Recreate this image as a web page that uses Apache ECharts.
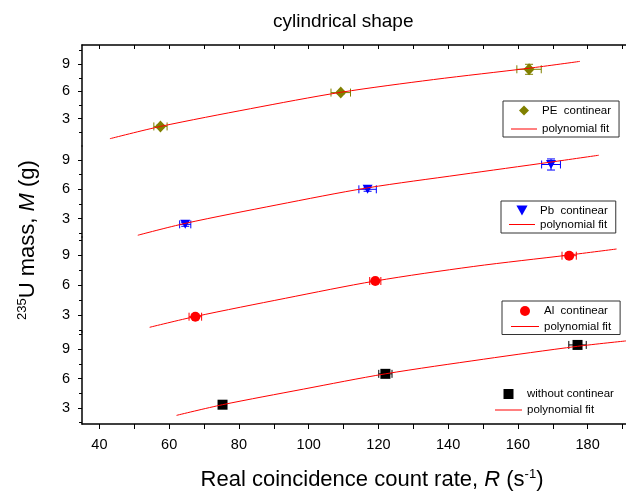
<!DOCTYPE html>
<html>
<head>
<meta charset="utf-8">
<script src="https://cdn.jsdelivr.net/npm/echarts@6/dist/echarts.min.js"></script>
<style>
  html, body { margin: 0; padding: 0; background: #fff; }
  #chart-container { width: 626px; height: 500px; }
</style>
</head>
<body>
<div id="chart-container"></div>
<script>
// tick labels
const xTickValues = [40, 50, 60, 70, 80, 90, 100, 110, 120, 130, 140, 150, 160, 170, 180, 190];
const xTickLabels = [40, 60, 80, 100, 120, 140, 160, 180];
const yTickLabels = [3, 6, 9];
const yMinorTicks = [1.5, 4.5, 7.5, 10.5];

// PE continear
const pePointX = [57.5, 109.2, 163.2];
const pePointY = [2.15, 5.87, 8.43];
const pePointXErr = [1.9, 2.8, 3.5];
const pePointYErr = [0.15, 0.15, 0.55];
const peFitX = [43, 57.5, 83.3, 109.2, 135.8, 163.2, 177.8];
const peFitY = [0.8, 2.15, 4.1, 5.9, 7.3, 8.55, 9.3];

// Pb continear
const pbPointX = [64.6, 116.9, 169.5];
const pbPointY = [2.4, 6.0, 8.55];
const pbPointXErr = [1.6, 2.5, 2.7];
const pbPointYErr = [0.2, 0.2, 0.57];
const pbFitX = [51, 64.6, 90.9, 116.9, 143.4, 169.5, 183.2];
const pbFitY = [1.28, 2.5, 4.4, 6.15, 7.5, 8.8, 9.5];

// Al continear
const alPointX = [67.5, 119.1, 174.7];
const alPointY = [2.83, 6.4, 8.93];
const alPointXErr = [1.8, 1.6, 2.05];
const alPointYErr = [0.15, 0.15, 0.25];
const alFitX = [54.4, 67.5, 93.3, 119.1, 147.2, 174.7, 188.3];
const alFitY = [1.77, 2.85, 4.67, 6.4, 7.85, 9.0, 9.6];

// without continear
const woPointX = [75.3, 122.0, 177.1];
const woPointY = [3.34, 6.49, 9.44];
const woPointXErr = [0.8, 1.9, 2.5];
const woPointYErr = [0.1, 0.15, 0.2];
const woFitX = [62.1, 75.3, 98.5, 122, 150.1, 177.1, 191];
const woFitY = [2.25, 3.34, 4.93, 6.49, 7.98, 9.3, 9.85];

const FONT = 'Liberation Sans, Arial, sans-serif';

// stacked panels, top to bottom
const panelLayout = [
  { top: 45, height: 101, min: 0, max: 11.1 },
  { top: 146, height: 91, min: 1.1, max: 10.45 },
  { top: 237, height: 95, min: 1.3, max: 10.8 },
  { top: 332, height: 92, min: 1.37, max: 10.76 },
];

// legend icons as paths so they keep their aspect
const ICON_DIAMOND = 'path://M5,0L10,5L5,10L0,5Z';
const ICON_TRI_DOWN = 'path://M0,0L10,0L5,9Z';
const ICON_CIRCLE = 'path://M5,0A5,5,0,1,1,5,10A5,5,0,1,1,5,0Z';
const ICON_SQUARE = 'path://M0,0L10,0L10,10L0,10Z';

function zip(xs, ys) {
  return xs.map((x, i) => [x, ys[i]]);
}

function errorBars(idx, xs, ys, xe, ye, color) {
  return {
    type: 'custom',
    xAxisIndex: idx,
    yAxisIndex: idx,
    z: 2,
    silent: true,
    encode: { x: 0, y: 1 },
    data: xs.map((x, i) => [x, ys[i], xe[i], ye[i]]),
    renderItem: function (params, api) {
      const x = api.value(0), y = api.value(1);
      const dx = api.value(2), dy = api.value(3);
      const l = api.coord([x - dx, y]);
      const r = api.coord([x + dx, y]);
      const t = api.coord([x, y + dy]);
      const b = api.coord([x, y - dy]);
      const c = 4;
      const style = { stroke: color, lineWidth: 1 };
      const seg = (x1, y1, x2, y2) => ({ type: 'line', shape: { x1, y1, x2, y2 }, style });
      return {
        type: 'group',
        children: [
          seg(l[0], l[1], r[0], r[1]),
          seg(l[0], l[1] - c, l[0], l[1] + c),
          seg(r[0], r[1] - c, r[0], r[1] + c),
          seg(t[0], t[1], b[0], b[1]),
          seg(t[0] - c, t[1], t[0] + c, t[1]),
          seg(b[0] - c, b[1], b[0] + c, b[1]),
        ],
      };
    },
  };
}

function points(idx, name, xs, ys, color, symbol, size, rotate) {
  return {
    name,
    type: 'scatter',
    xAxisIndex: idx,
    yAxisIndex: idx,
    z: 3,
    symbol,
    symbolSize: size,
    symbolRotate: rotate || 0,
    itemStyle: { color, opacity: 1 },
    data: zip(xs, ys),
  };
}

function fit(idx, xs, ys) {
  return {
    name: 'polynomial fit',
    type: 'line',
    xAxisIndex: idx,
    yAxisIndex: idx,
    z: 4,
    smooth: 0.3,
    symbol: 'none',
    itemStyle: { color: '#ff0000' },
    lineStyle: { color: '#ff0000', width: 1 },
    data: zip(xs, ys),
  };
}

function legendBox(name, icon, left, top, itemGap, padding, border, itemWidth) {
  const w = itemWidth || 26;
  return {
    data: [
      { name, icon },
      { name: 'polynomial fit', icon: 'path://M0,0L' + w + ',0L' + w + ',1L0,1Z' },
    ],
    orient: 'vertical',
    left,
    top,
    itemGap,
    padding,
    itemWidth: w,
    itemHeight: 10,
    symbolKeepAspect: true,
    symbolRotate: 0,
    borderColor: border ? '#333' : 'transparent',
    borderWidth: border ? 1 : 0,
    backgroundColor: border ? '#fff' : 'transparent',
    selectedMode: false,
    textStyle: { fontSize: 11.5, color: '#000', fontFamily: FONT },
  };
}

const grids = panelLayout.map((p) => ({ left: 82, right: 0, top: p.top, height: p.height }));

const xAxes = panelLayout.map((p, i) => {
  const isTop = i === 0;
  const isBottom = i === panelLayout.length - 1;
  return {
    type: 'value',
    gridIndex: i,
    min: 35,
    max: 191,
    position: isTop ? 'top' : 'bottom',
    show: isTop || isBottom,
    splitLine: { show: false },
    axisLine: { show: true, onZero: false, lineStyle: { color: '#000', width: 1.5 } },
    axisTick: {
      show: true,
      inside: isTop,
      length: isTop ? 4 : 5,
      customValues: xTickValues,
      lineStyle: { color: '#000', width: 1 },
    },
    axisLabel: {
      show: isBottom,
      customValues: xTickLabels,
      margin: 13,
      fontSize: 14.5,
      color: '#000',
      fontFamily: FONT,
    },
  };
});

const yMain = panelLayout.map((p, i) => ({
  type: 'value',
  gridIndex: i,
  min: p.min,
  max: p.max,
  splitLine: { show: false },
  axisLine: { show: true, onZero: false, lineStyle: { color: '#000', width: 1.5 } },
  axisTick: { show: true, length: 4, customValues: yTickLabels, lineStyle: { color: '#000', width: 1 } },
  axisLabel: { customValues: yTickLabels, margin: 12, fontSize: 14.5, color: '#000', fontFamily: FONT },
}));

const yMinor = panelLayout.map((p, i) => ({
  type: 'value',
  gridIndex: i,
  min: p.min,
  max: p.max,
  position: 'left',
  splitLine: { show: false },
  axisLine: { show: false },
  axisTick: {
    show: true,
    length: 3,
    customValues: yMinorTicks.filter((v) => v >= p.min && v <= p.max),
    lineStyle: { color: '#000', width: 1 },
  },
  axisLabel: { show: false },
}));

const series = [
  errorBars(0, pePointX, pePointY, pePointXErr, pePointYErr, '#808000'),
  points(0, 'PE  continear', pePointX, pePointY, '#808000', 'diamond', [11, 12]),
  fit(0, peFitX, peFitY),
  errorBars(1, pbPointX, pbPointY, pbPointXErr, pbPointYErr, '#0000ff'),
  points(1, 'Pb  continear', pbPointX, pbPointY, '#0000ff', 'triangle', [10, 9], 180),
  fit(1, pbFitX, pbFitY),
  errorBars(2, alPointX, alPointY, alPointXErr, alPointYErr, '#ff0000'),
  points(2, 'Al  continear', alPointX, alPointY, '#ff0000', 'circle', 10),
  fit(2, alFitX, alFitY),
  errorBars(3, woPointX, woPointY, woPointXErr, woPointYErr, '#000000'),
  points(3, 'without continear', woPointX, woPointY, '#000000', 'rect', 10),
  fit(3, woFitX, woFitY),
];

const option = {
  animation: false,
  textStyle: { fontFamily: FONT },
  title: {
    text: 'cylindrical shape',
    left: 273,
    top: 12,
    padding: 0,
    textStyle: { fontSize: 19, fontWeight: 'normal', color: '#000', fontFamily: FONT },
  },
  legend: [
    legendBox('PE  continear', ICON_DIAMOND, 503, 101, 6.5, [3.5, 8, 2, 8], true),
    legendBox('Pb  continear', ICON_TRI_DOWN, 501, 201, 2, [3.5, 8, 2.5, 8], true),
    legendBox('Al  continear', ICON_CIRCLE, 502, 301, 3.5, [4, 9, 2, 9], true, 28),
    legendBox('without continear', ICON_SQUARE, 490, 384, 4, [4, 5, 2, 5], false, 27),
  ],
  grid: grids,
  xAxis: xAxes,
  yAxis: yMain.concat(yMinor),
  series,
  graphic: [
    {
      type: 'text',
      x: 372,
      y: 480,
      style: {
        text: 'Real coincidence count rate, {it|R} (s{sup|-1})',
        fontSize: 22,
        fontFamily: FONT,
        fill: '#000',
        align: 'center',
        verticalAlign: 'middle',
        lineHeight: 24,
        rich: {
          it: { fontSize: 22, fontStyle: 'italic', fontFamily: FONT, lineHeight: 24 },
          sup: { fontSize: 13, fontFamily: FONT, lineHeight: 13, verticalAlign: 'top' },
        },
      },
    },
    {
      type: 'text',
      x: 28,
      y: 240,
      rotation: Math.PI / 2,
      style: {
        text: '{sup|235}U mass, {it|M} (g)',
        fontSize: 22,
        fontFamily: FONT,
        fill: '#000',
        align: 'center',
        verticalAlign: 'middle',
        lineHeight: 24,
        rich: {
          it: { fontSize: 22, fontStyle: 'italic', fontFamily: FONT, lineHeight: 24 },
          sup: { fontSize: 13, fontFamily: FONT, lineHeight: 13, verticalAlign: 'top' },
        },
      },
    },
  ],
};

const myChart = echarts.init(document.getElementById('chart-container'));
myChart.setOption(option);
window.addEventListener('resize', myChart.resize);
</script>
</body>
</html>
